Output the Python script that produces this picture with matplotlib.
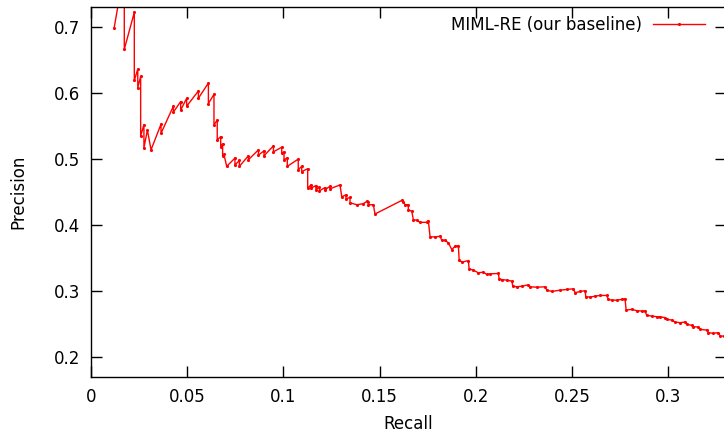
import matplotlib
matplotlib.use("Agg")
import matplotlib.pyplot as plt

# Precision/recall points
recall = [
    0.0120, 0.0173, 0.0173, 0.0225, 0.0225, 0.0243, 0.0243, 0.0258, 0.0258, 0.0275,
    0.0275, 0.0293, 0.0312, 0.0364, 0.0364, 0.0428, 0.0428, 0.0466, 0.0466, 0.0497,
    0.0497, 0.0558, 0.0558, 0.0610, 0.0610, 0.0639, 0.0639, 0.0656, 0.0656, 0.0674,
    0.0674, 0.0684, 0.0684, 0.0691, 0.0705, 0.0748, 0.0748, 0.0771, 0.0771, 0.0818,
    0.0818, 0.0870, 0.0870, 0.0899, 0.0899, 0.0948, 0.0948, 0.0991, 0.0991, 0.1003,
    0.1003, 0.1020, 0.1020, 0.1077, 0.1077, 0.1095, 0.1095, 0.1126, 0.1126, 0.1143,
    0.1143, 0.1169, 0.1169, 0.1187, 0.1187, 0.1216, 0.1216, 0.1242, 0.1242, 0.1294,
    0.1303, 0.1325, 0.1325, 0.1346, 0.1346, 0.1381, 0.1415, 0.1433, 0.1441, 0.1441,
    0.1467, 0.1476, 0.1615, 0.1622, 0.1632, 0.1649, 0.1649, 0.1667, 0.1675, 0.1693,
    0.1710, 0.1745, 0.1753, 0.1762, 0.1788, 0.1814, 0.1823, 0.1840, 0.1857, 0.1875,
    0.1892, 0.1909, 0.1913, 0.1927, 0.1961, 0.1965, 0.1987, 0.2013, 0.2039, 0.2057,
    0.2074, 0.2117, 0.2121, 0.2134, 0.2161, 0.2187, 0.2192, 0.2213, 0.2239, 0.2273,
    0.2282, 0.2317, 0.2360, 0.2369, 0.2395, 0.2438, 0.2472, 0.2507, 0.2516, 0.2542,
    0.2568, 0.2571, 0.2594, 0.2620, 0.2646, 0.2680, 0.2689, 0.2706, 0.2732, 0.2758,
    0.2775, 0.2781, 0.2810, 0.2836, 0.2862, 0.2879, 0.2888, 0.2914, 0.2940, 0.2957,
    0.2983, 0.2992, 0.3018, 0.3035, 0.3061, 0.3087, 0.3096, 0.3122, 0.3130, 0.3156,
    0.3165, 0.3200, 0.3208, 0.3234, 0.3260, 0.3269, 0.3290, 0.3330,
]
precision = [
    0.698, 0.787, 0.666, 0.722, 0.619, 0.636, 0.608, 0.625, 0.535, 0.552,
    0.517, 0.544, 0.514, 0.553, 0.539, 0.580, 0.571, 0.587, 0.574, 0.592,
    0.580, 0.603, 0.592, 0.615, 0.584, 0.598, 0.552, 0.559, 0.529, 0.534,
    0.519, 0.523, 0.504, 0.507, 0.489, 0.5015, 0.491, 0.498, 0.489, 0.505,
    0.499, 0.514, 0.506, 0.5125, 0.505, 0.520, 0.511, 0.518, 0.509, 0.511,
    0.499, 0.502, 0.489, 0.500, 0.484, 0.489, 0.481, 0.4855, 0.456, 0.461,
    0.456, 0.460, 0.454, 0.458, 0.452, 0.457, 0.4535, 0.459, 0.455, 0.461,
    0.443, 0.446, 0.440, 0.442, 0.434, 0.431, 0.4325, 0.436, 0.4345, 0.431,
    0.431, 0.417, 0.4375, 0.4356, 0.431, 0.431, 0.4235, 0.421, 0.4085, 0.4074,
    0.4044, 0.4044, 0.407, 0.3824, 0.3824, 0.3833, 0.3772, 0.3772, 0.3733, 0.3632,
    0.3682, 0.3692, 0.3481, 0.3441, 0.3466, 0.3341, 0.3320, 0.3281, 0.3290, 0.3255,
    0.3265, 0.3270, 0.3190, 0.3179, 0.3169, 0.3154, 0.3078, 0.3069, 0.3078, 0.3099,
    0.3069, 0.3063, 0.3069, 0.3018, 0.2999, 0.3018, 0.3029, 0.3039, 0.2979, 0.2999,
    0.3009, 0.2919, 0.2913, 0.2928, 0.2938, 0.2938, 0.2878, 0.2867, 0.2867, 0.2878,
    0.2888, 0.2717, 0.2727, 0.2708, 0.2702, 0.2702, 0.2637, 0.2626, 0.2617, 0.2617,
    0.2602, 0.2576, 0.2566, 0.2536, 0.2526, 0.2536, 0.2501, 0.2486, 0.2466, 0.2460,
    0.2425, 0.2415, 0.2376, 0.2365, 0.2376, 0.2324, 0.2324, 0.2310,
]
x_ticks = [0, 0.05, 0.1, 0.15, 0.2, 0.25, 0.3]
y_ticks = [0.2, 0.3, 0.4, 0.5, 0.6, 0.7]

plt.rcParams['font.size'] = 12

fig = plt.figure(figsize=(7.24, 4.33), dpi=100)
# right border sits just past the image edge, like the cropped original
ax = fig.add_axes([0.1257, 0.1286, 0.8771, 0.8552])

ax.plot(recall, precision, color='red', lw=1.0, marker='.', markersize=2.5,
        label="MIML-RE (our baseline)")

ax.set_xlim(0, 0.33)
ax.set_ylim(0.17, 0.73)
ax.set_xticks(x_ticks)
ax.set_xticklabels(["%g" % t for t in x_ticks])
ax.set_yticks(y_ticks)
ax.set_yticklabels(["%g" % t for t in y_ticks])
ax.tick_params(direction='in', length=8, width=1, top=True, right=True, pad=8)
for s in ax.spines.values():
    s.set_linewidth(1.0)

ax.set_xlabel("Recall", labelpad=6.5)
ax.set_ylabel("Precision", labelpad=19)

ax.legend(loc='upper right', bbox_to_anchor=(0.967, 0.975), frameon=False,
          markerfirst=False, numpoints=1, handlelength=3.1, handletextpad=0.7,
          borderaxespad=0, borderpad=0)

fig.savefig("out.png", dpi=100)
